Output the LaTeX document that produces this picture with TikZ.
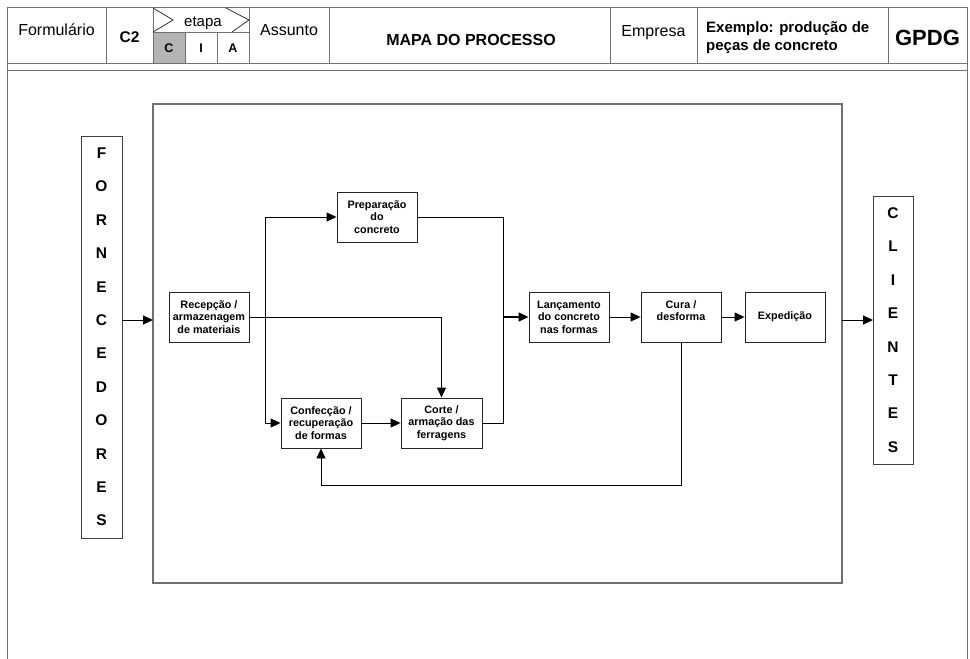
\documentclass[tikz,border=0pt]{standalone}
\usepackage{fontspec}
\setmainfont{Liberation Sans}
\usetikzlibrary{arrows.meta}
\definecolor{frame}{HTML}{707070}
\definecolor{cellgray}{HTML}{B4B4B4}
\tikzset{
  procbox/.style={draw=black!85, line width=0.9pt, fill=white, minimum width=80pt, minimum height=50pt, inner sep=1pt, align=center, font=\fontsize{10.8}{12.6}\selectfont\bfseries},
  letterbox/.style={draw=black!75, line width=0.9pt, inner sep=0pt, align=center, font=\fontsize{15.5}{33.4}\selectfont\bfseries},
  arr/.style={line width=0.9pt, -{Triangle[length=10pt,width=9pt]}},
  ln/.style={line width=0.9pt},
  hdr/.style={draw=frame, line width=1pt},
  txt/.style={inner sep=0pt, anchor=base}
}
\begin{document}
\begin{tikzpicture}[x=1pt,y=-1pt]
\useasboundingbox (0,0) rectangle (970,659);
% header frame
\draw[hdr] (7,659) -- (7,7) -- (967,7) -- (967,659);
\draw[hdr] (7,63) -- (967,63);
\draw[hdr] (7,70) -- (967,70);
\fill[cellgray] (153,32) rectangle (185,63);
\foreach \xx in {106,153,249,329,610,697,888} \draw[hdr] (\xx,7) -- (\xx,63);
\draw[hdr] (153,32) -- (249,32);
\draw[hdr] (185,32) -- (185,63);
\draw[hdr] (217,32) -- (217,63);
\draw[draw=black!80, line width=0.8pt] (153,8) -- (173,20) -- (153,32);
\draw[draw=black!80, line width=0.8pt] (226,8) -- (249,20) -- (232,32);
\node[txt, font=\fontsize{16}{16}\selectfont] (tform) at (56.5,35) {Formulário};
\node[txt, font=\fontsize{15.5}{15.5}\selectfont\bfseries] (tc2) at (129.5,42) {C2};
\node[txt, font=\fontsize{15}{15}\selectfont] (tetapa) at (203,26) {etapa};
\node[txt, font=\fontsize{12.5}{12.5}\selectfont\bfseries] (tC) at (169,52) {C};
\node[txt, font=\fontsize{12.5}{12.5}\selectfont\bfseries] (tI) at (201,52) {I};
\node[txt, font=\fontsize{12.5}{12.5}\selectfont\bfseries] (tA) at (233,52) {A};
\node[txt, font=\fontsize{16}{16}\selectfont] (tass) at (289,35) {Assunto};
\node[txt, font=\fontsize{16}{16}\selectfont\bfseries] (tmapa) at (471,45) {MAPA DO PROCESSO};
\node[txt, font=\fontsize{16}{16}\selectfont] (temp) at (653.5,36) {Empresa};
\node[txt, anchor=base west, font=\fontsize{15}{15}\selectfont\bfseries] (tex1) at (706,32) {Exemplo: produção de};
\node[txt, anchor=base west, font=\fontsize{15}{15}\selectfont\bfseries] (tex2) at (706,50) {peças de concreto};
\node[txt, font=\fontsize{22}{22}\selectfont\bfseries] (tgpdg) at (927.5,45) {GPDG};
% main area box
\node[draw=frame, line width=1.4pt, minimum width=689pt, minimum height=479pt, inner sep=0pt] (main) at (497.5,343.5) {};
% side boxes
\node[letterbox, minimum width=41pt, minimum height=402pt] (forn) at (101.5,337) {F\\O\\R\\N\\E\\C\\E\\D\\O\\R\\E\\S};
\node[letterbox, minimum width=40pt, minimum height=268pt] (cli) at (893,330) {C\\L\\I\\E\\N\\T\\E\\S};
% process boxes
\node[procbox] (rec) at (209,317) {Recepção /\\armazenagem\\de materiais};
\node[procbox] (prep) at (377,217) {Preparação\\do\\concreto};
\node[procbox] (conf) at (321,423) {Confecção /\\recuperação\\de formas};
\node[procbox, minimum width=81pt] (corte) at (441.5,423) {Corte /\\armação das\\ferragens};
\node[procbox] (lanc) at (569,317) {Lançamento\\do concreto\\nas formas};
\node[procbox] (cura) at (681,317) {Cura /\\desforma\\\mbox{}};
\node[procbox] (exped) at (785,317) {Expedição};
% coordinates
\coordinate (j1) at (265,317);
\coordinate (j2) at (503,317);
\coordinate (fa) at (122,320);
\coordinate (fb) at (153,320);
\coordinate (ca) at (842,320);
\coordinate (cb) at (873,320);
% connectors
\draw[arr] (fa) -- (fb);
\draw[ln] (rec.east) -- (j1);
\draw[arr] (j1) |- (prep.west);
\draw[arr] (j1) |- (conf.west);
\draw[arr] (rec.east) -| (corte.north);
\draw[arr] (conf.east) -- (corte.west);
\draw[ln] (prep.east) -| (j2);
\draw[ln] (corte.east) -| (j2);
\draw[arr, line width=1.6pt] (j2) -- (lanc.west);
\draw[arr] (lanc.east) -- (cura.west);
\draw[arr] (cura.east) -- (exped.west);
\draw[arr] (cura.south) -- ++(0,143) -| (conf.south);
\draw[arr] (ca) -- (cb);
\end{tikzpicture}
\end{document}
